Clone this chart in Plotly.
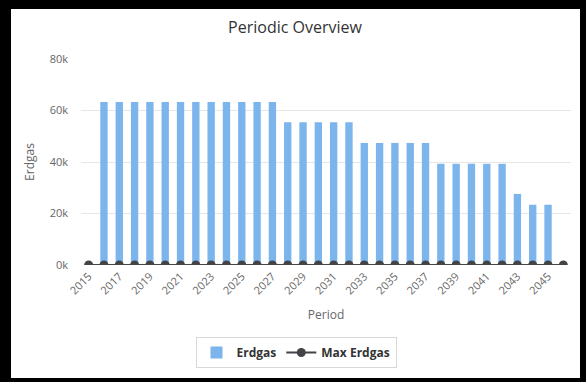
import plotly.graph_objects as go

# ---- data ----
periods = ["2015", "2016", "2017", "2018", "2019", "2020", "2021", "2022",
           "2023", "2024", "2025", "2026", "2027", "2028", "2029", "2030",
           "2031", "2032", "2033", "2034", "2035", "2036", "2037", "2038",
           "2039", "2040", "2041", "2042", "2043", "2044", "2045", "2046"]
erdgas = [0, 63300, 63300, 63300, 63300, 63300, 63300, 63300,
          63300, 63300, 63300, 63300, 63300, 55400, 55400, 55400,
          55400, 55400, 47400, 47400, 47400, 47400, 47400, 39300,
          39300, 39300, 39300, 39300, 27600, 23400, 23400, 0]
max_erdgas = [0] * 32
tick_labels = ["2015", "2017", "2019", "2021", "2023", "2025", "2027", "2029",
               "2031", "2033", "2035", "2037", "2039", "2041", "2043", "2045"]
y_ticks = [0, 20000, 40000, 60000, 80000]
y_tick_text = ["0k", "20k", "40k", "60k", "80k"]

W, H = 586, 382
L, R, T, B = 81, 15, 59, 117
pw, ph = W - L - R, H - T - B

def px_x(x):
    return (x - L) / pw

def px_y(y):
    return (H - B - y) / ph

FONT = "Open Sans, Lato, DejaVu Sans, sans-serif"

fig = go.Figure()
fig.add_trace(go.Bar(
    x=periods, y=erdgas, name="Erdgas",
    marker=dict(color="#7cb5ec", line=dict(width=0)),
))
fig.add_trace(go.Scatter(
    x=periods, y=max_erdgas, name="Max Erdgas", mode="lines+markers",
    line=dict(color="#434348", width=2),
    marker=dict(color="#434348", size=9, symbol="circle"),
))

fig.update_layout(
    width=W, height=H,
    margin=dict(l=L, r=R, t=T, b=B, pad=0),
    paper_bgcolor="#000000",
    plot_bgcolor="rgba(0,0,0,0)",
    bargap=0.52,
    font=dict(family=FONT, color="#666666", size=11),
    title=dict(text="Periodic Overview", x=295 / W, xref="container", xanchor="center",
               y=1 - 27 / H, yref="container", yanchor="middle",
               font=dict(size=16, color="#333333", family=FONT)),
    showlegend=True,
    legend=dict(orientation="h", x=px_x(296), xanchor="center",
                y=px_y(337), yanchor="top",
                bordercolor="#d8d8d8", borderwidth=1, bgcolor="#ffffff",
                font=dict(size=12, color="#333333", family=FONT, weight="bold"),
                itemwidth=30, tracegroupgap=0),
    shapes=[dict(type="rect", xref="paper", yref="paper", layer="below",
                 x0=px_x(11), x1=px_x(580), y0=px_y(378), y1=px_y(9),
                 fillcolor="#ffffff", line=dict(width=0))],
)
fig.update_xaxes(
    type="category", range=[-0.5, 31.5],
    tickmode="array", tickvals=tick_labels, ticktext=tick_labels,
    tickangle=-45, tickfont=dict(size=11, color="#666666"),
    showgrid=False, zeroline=False, showline=False,
    ticks="", ticklabelstandoff=2,
    title=dict(text="Period", font=dict(size=12, color="#666666"), standoff=14),
)
fig.update_yaxes(
    range=[0, 80000], tickvals=y_ticks, ticktext=y_tick_text,
    showgrid=True, gridcolor="#e6e6e6", gridwidth=1,
    zeroline=False, showline=False, ticks="",
    ticklabelstandoff=12, tickfont=dict(size=11, color="#666666"),
    title=dict(text="Erdgas", font=dict(size=12, color="#666666"), standoff=12),
)

fig.write_html("out.html")
